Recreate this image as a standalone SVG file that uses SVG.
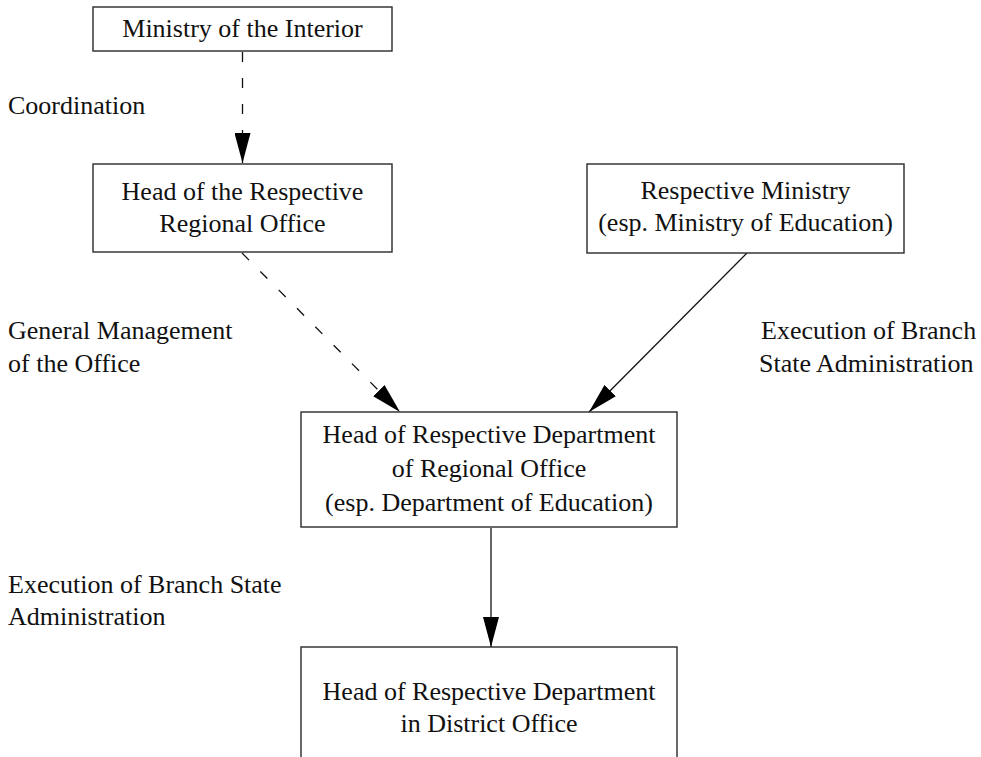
<svg xmlns="http://www.w3.org/2000/svg" width="981" height="757" viewBox="0 0 981 757">
  <style>
    .box { fill: #ffffff; stroke: #2a2a2a; stroke-width: 1.4; }
    .t { font-family: "Liberation Serif", "Times New Roman", serif; font-size: 26px; fill: #111111; }
    .c { text-anchor: middle; }
    .edge { fill: none; stroke: #111111; stroke-width: 1.3; }
    .dash { stroke-dasharray: 10 16; }
  </style>
  <defs>
    <marker id="arrow" viewBox="0 0 30 16" refX="30" refY="8" markerWidth="30" markerHeight="16" markerUnits="userSpaceOnUse" orient="auto">
      <path d="M0,0 L30,8 L0,16 Z" fill="#000000"/>
    </marker>
  </defs>
  <rect width="981" height="757" fill="#ffffff"/>

  <g id="edges">
    <line class="edge dash" x1="242.5" y1="52" x2="242.5" y2="163" marker-end="url(#arrow)"/>
    <line class="edge dash" x1="242" y1="253" x2="400" y2="412" marker-end="url(#arrow)"/>
    <line class="edge" x1="747" y1="253" x2="589" y2="412" marker-end="url(#arrow)"/>
    <line class="edge" x1="491" y1="528" x2="491" y2="647" marker-end="url(#arrow)"/>
  </g>

  <g id="ministry-interior">
    <rect class="box" x="93" y="7" width="299" height="44"/>
    <text class="t c" x="242.5" y="37">Ministry of the Interior</text>
  </g>

  <g id="regional-office-head">
    <rect class="box" x="93" y="164" width="299" height="88"/>
    <text class="t c" x="242.5" y="200">Head of the Respective</text>
    <text class="t c" x="242.5" y="232">Regional Office</text>
  </g>

  <g id="respective-ministry">
    <rect class="box" x="587" y="164" width="317" height="89"/>
    <text class="t c" x="745.5" y="199">Respective Ministry</text>
    <text class="t c" x="745.5" y="231">(esp. Ministry of Education)</text>
  </g>

  <g id="regional-department-head">
    <rect class="box" x="301" y="412" width="376" height="115"/>
    <text class="t c" x="489" y="443">Head of Respective Department</text>
    <text class="t c" x="489" y="477">of Regional Office</text>
    <text class="t c" x="489" y="511">(esp. Department of Education)</text>
  </g>

  <g id="district-department-head">
    <rect class="box" x="301" y="647" width="376" height="130"/>
    <text class="t c" x="489" y="700">Head of Respective Department</text>
    <text class="t c" x="489" y="732">in District Office</text>
  </g>

  <g id="labels">
    <text class="t" x="8" y="114">Coordination</text>
    <text class="t" x="8" y="339">General Management</text>
    <text class="t" x="8" y="372">of the Office</text>
    <text class="t" x="761" y="339">Execution of Branch</text>
    <text class="t" x="759" y="372">State Administration</text>
    <text class="t" x="8" y="593">Execution of Branch State</text>
    <text class="t" x="8" y="625">Administration</text>
  </g>
</svg>
